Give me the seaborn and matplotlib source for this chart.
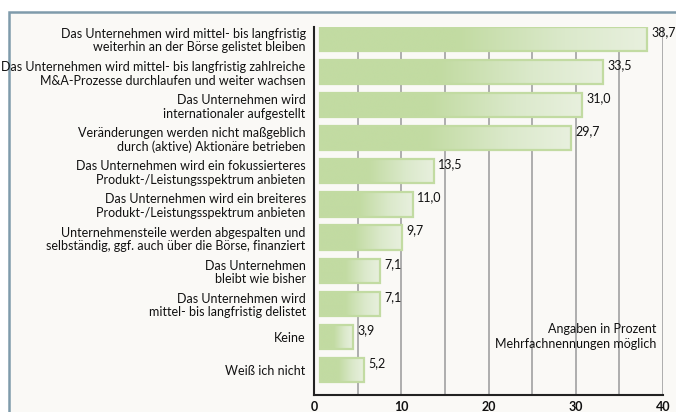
import numpy as np
import matplotlib
matplotlib.use("Agg")
import matplotlib.pyplot as plt
import seaborn as sns
from matplotlib.colors import LinearSegmentedColormap
from matplotlib.patches import Rectangle

labels = [
    "Das Unternehmen wird mittel- bis langfristig\nweiterhin an der Börse gelistet bleiben",
    "Das Unternehmen wird mittel- bis langfristig zahlreiche\nM&A-Prozesse durchlaufen und weiter wachsen",
    "Das Unternehmen wird\ninternationaler aufgestellt",
    "Veränderungen werden nicht maßgeblich\ndurch (aktive) Aktionäre betrieben",
    "Das Unternehmen wird ein fokussierteres\nProdukt-/Leistungsspektrum anbieten",
    "Das Unternehmen wird ein breiteres\nProdukt-/Leistungsspektrum anbieten",
    "Unternehmensteile werden abgespalten und\nselbständig, ggf. auch über die Börse, finanziert",
    "Das Unternehmen\nbleibt wie bisher",
    "Das Unternehmen wird\nmittel- bis langfristig delistet",
    "Keine",
    "Weiß ich nicht",
]
values = [38.7, 33.5, 31.0, 29.7, 13.5, 11.0, 9.7, 7.1, 7.1, 3.9, 5.2]
xticks = [0, 10, 20, 30, 40]
note = "Angaben in Prozent\nMehrfachnennungen möglich"

sns.set_theme(style="white")
plt.rcParams["font.family"] = ["Lato", "DejaVu Sans"]

bg = "#faf9f6"
green = "#c2dba2"
light = "#e8f0de"
txt = "#111111"

fig = plt.figure(figsize=(6.76, 4.12), dpi=100)
fig.patch.set_facecolor("white")
# outer frame
fig.patches.append(Rectangle((8.5 / 676, -0.05), 1.0, 1 - 11.5 / 412 + 0.05,
                             transform=fig.transFigure, facecolor=bg,
                             edgecolor="#7f9bab", linewidth=1.8, zorder=-5))

pos = [314 / 676, 1 - 395 / 412, (663 - 314) / 676, (395 - 27) / 412]
ax = fig.add_axes(pos)
ax.set_facecolor("none")
# bars sit on their own slightly offset scale, as in the original graphic
axb = fig.add_axes(pos, sharey=ax)
axb.set_facecolor("none")
axb.axis("off")

ypos = np.arange(len(values))
sns.barplot(x=values, y=ypos, orient="h", ax=axb, color=green, width=0.73,
            edgecolor="none", native_scale=True, zorder=2)

cmap = LinearSegmentedColormap.from_list(
    "bar", [(0, green), (0.42, green), (0.75, "#dbe9cb"), (1, light)])
grad = np.linspace(0, 1, 256).reshape(1, -1)
for p in list(axb.patches):
    x0, y0 = p.get_x(), p.get_y()
    w, h = p.get_width(), p.get_height()
    im = axb.imshow(grad, cmap=cmap, aspect="auto", extent=(x0, x0 + w, y0 + h, y0),
                    zorder=3, interpolation="bicubic")
    im.set_clip_path(p)
    axb.add_patch(Rectangle((x0, y0), w, h, facecolor="none", edgecolor=green,
                            linewidth=1.6, zorder=4))

for v, y in zip(values, ypos):
    axb.annotate(f"{v:.1f}".replace(".", ","), (v, y), xytext=(3, 5),
                 textcoords="offset points", ha="left", va="center",
                 fontsize=9, color=txt, annotation_clip=False)

axb.set_xlim(-0.71, 40.6)
ax.set_xlim(0, 40)
ax.set_ylim(len(values) - 1 + 0.755, -0.36)
ax.set_yticks(ypos)
ax.set_yticklabels(labels, fontsize=9, color=txt, linespacing=1.15)
ax.set_xticks(xticks)
ax.set_xticklabels([str(t) for t in xticks], fontsize=9, color=txt,
                   fontweight="bold")
for g in range(5, 41, 5):
    ax.axvline(g, color="#a8a8a8", linewidth=1.3, zorder=1)
ax.tick_params(axis="y", length=0, pad=6)
ax.tick_params(axis="x", length=0, pad=4)
ax.set_xlabel("")
ax.set_ylabel("")
for s in ["top", "right"]:
    ax.spines[s].set_visible(False)
for s in ["left", "bottom"]:
    ax.spines[s].set_color("#222222")
    ax.spines[s].set_linewidth(1.5)

ax.text(0.98, 0.158, note, transform=ax.transAxes, ha="right", va="center",
        fontsize=9, color=txt, linespacing=1.3)

fig.savefig("out.png", dpi=100, facecolor=fig.get_facecolor())
